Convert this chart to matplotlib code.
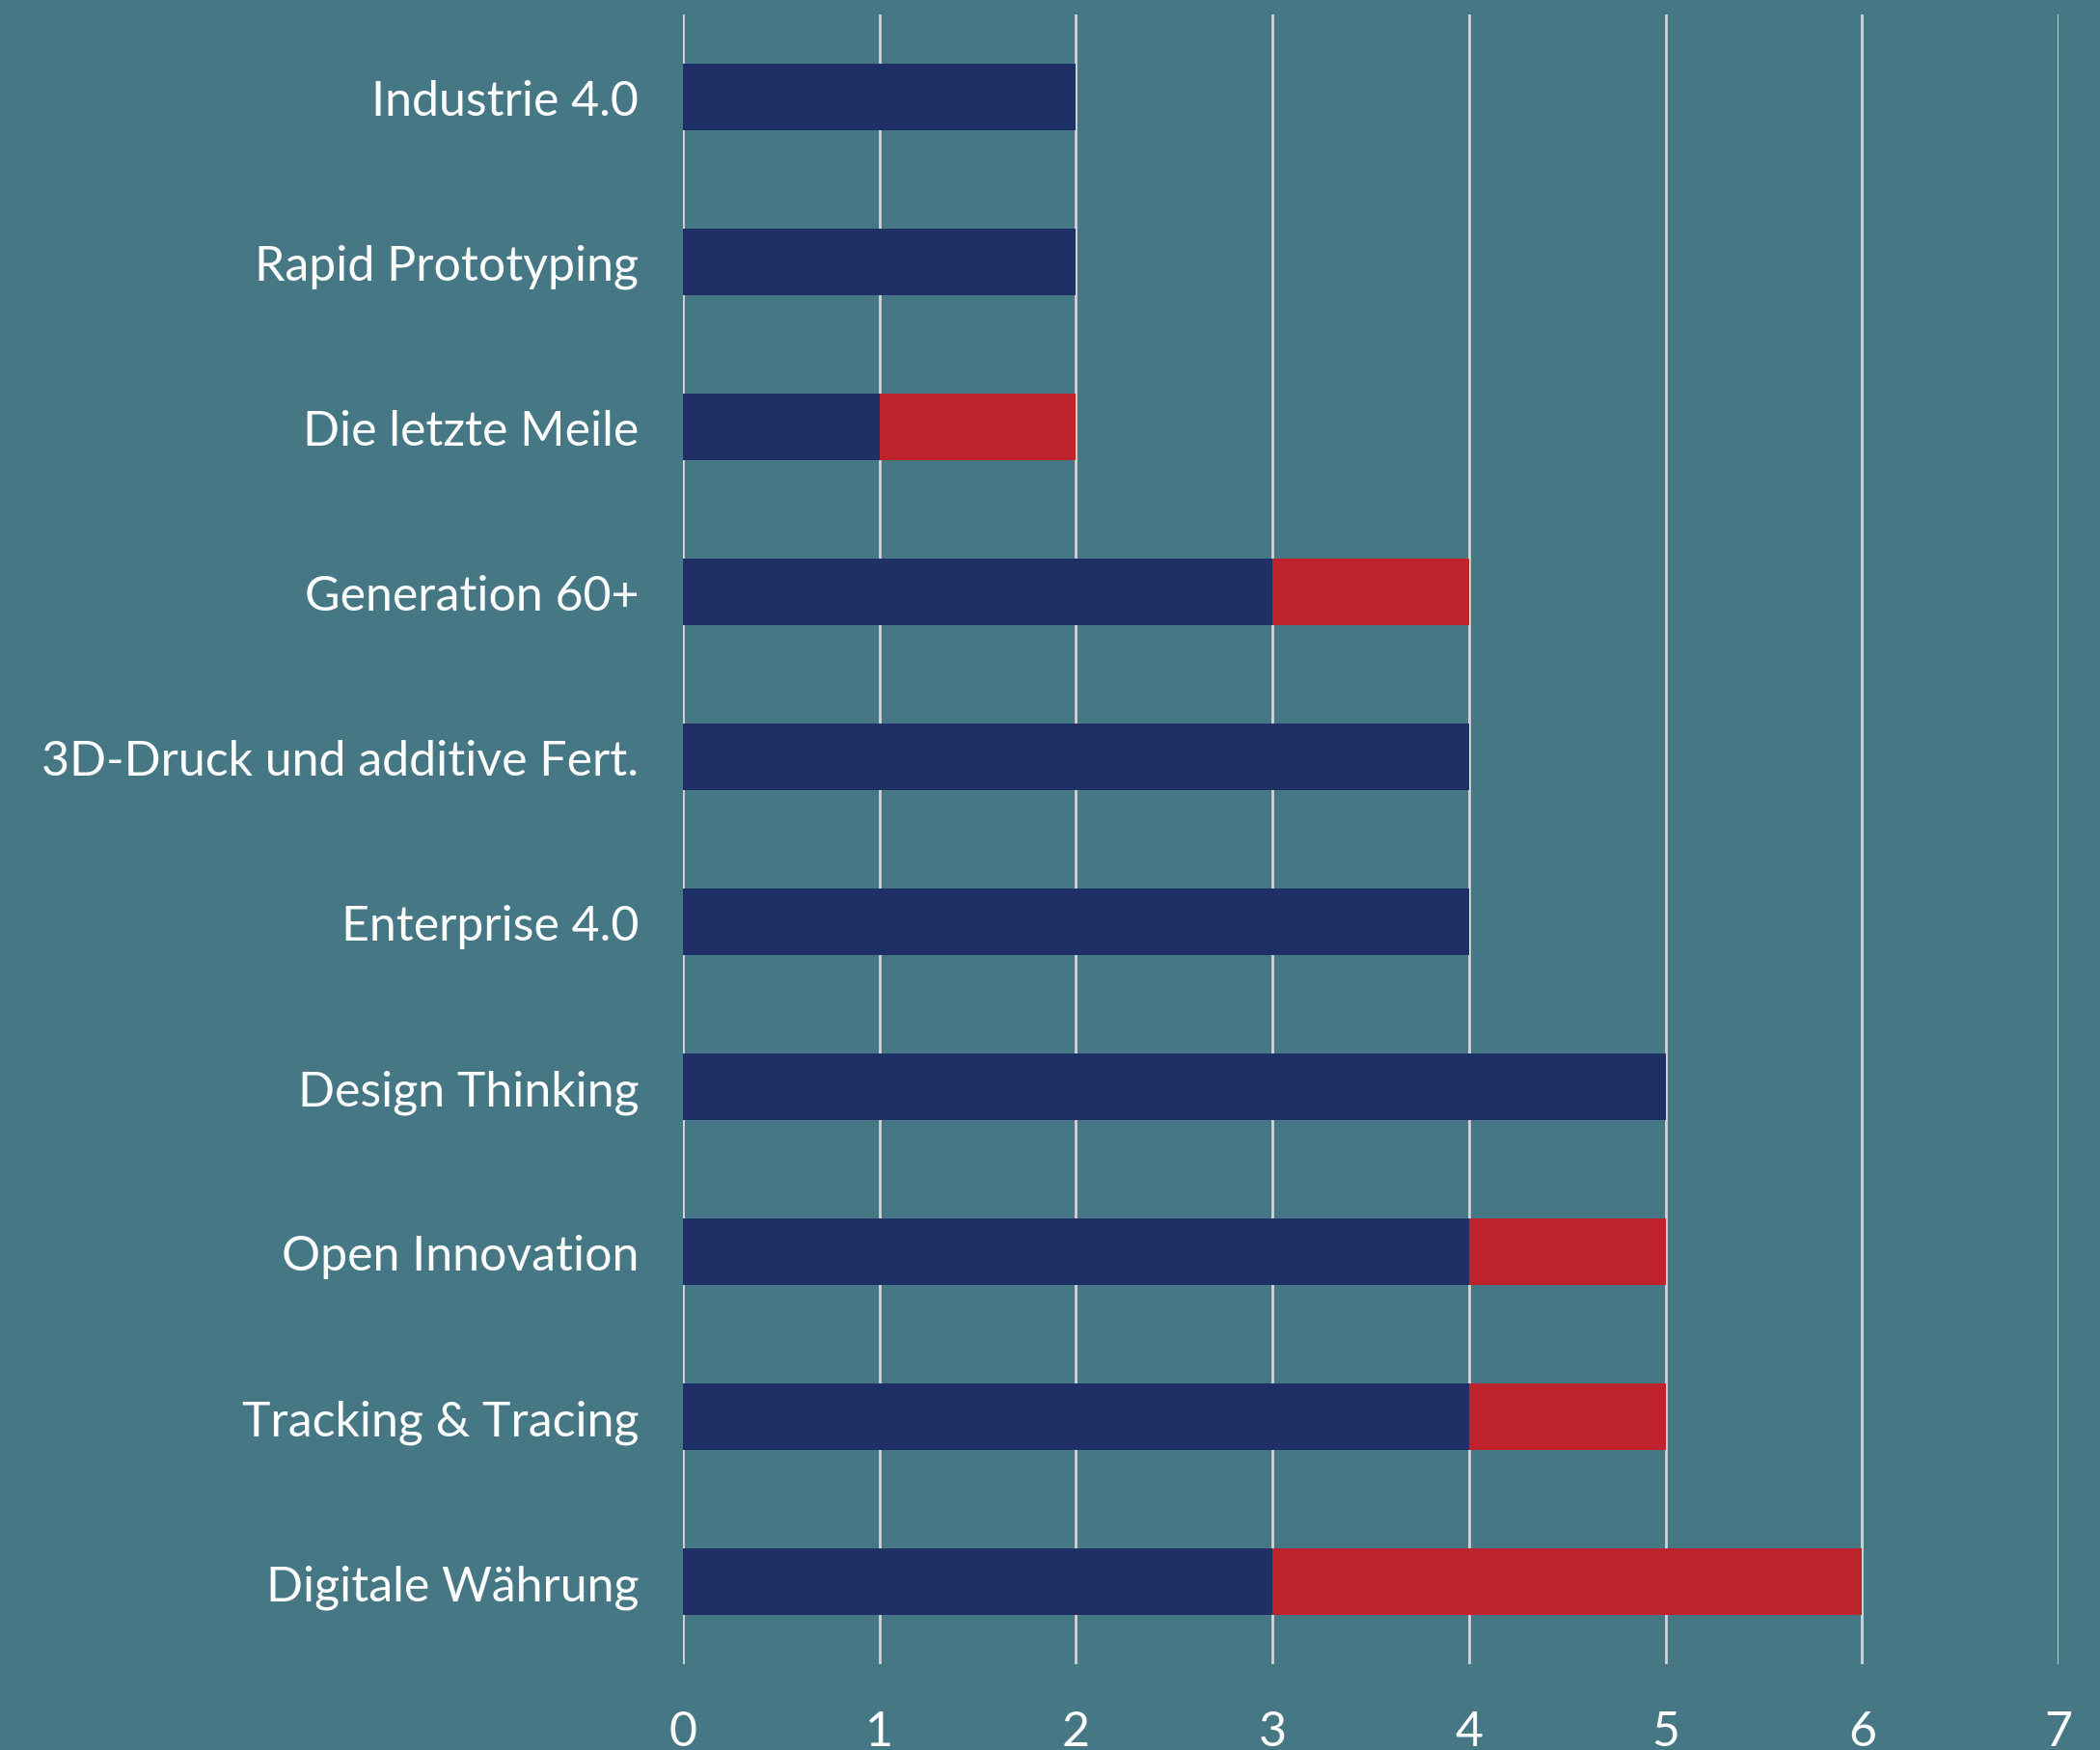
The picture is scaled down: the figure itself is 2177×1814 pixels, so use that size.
import matplotlib
matplotlib.use("Agg")
import matplotlib.pyplot as plt

# topics, top to bottom
topics = ["Industrie 4.0", "Rapid Prototyping", "Die letzte Meile", "Generation 60+",
          "3D-Druck und additive Fert.", "Enterprise 4.0", "Design Thinking",
          "Open Innovation", "Tracking & Tracing", "Digitale Währung"]
navy_vals = [2, 2, 1, 3, 4, 4, 5, 4, 4, 3]
red_vals = [0, 0, 1, 1, 0, 0, 0, 1, 1, 3]
xticks = [0, 1, 2, 3, 4, 5, 6, 7]

bg = "#457884"
navy = "#1f3066"
red = "#be232c"

plt.rcParams['font.family'] = ['Lato', 'DejaVu Sans']

fig = plt.figure(figsize=(21.77, 18.15), dpi=100, facecolor=bg)
ax = fig.add_axes([0.3252, 0.049, 0.6551, 0.9422])
ax.set_facecolor(bg)

ypos = list(range(len(topics)))
ax.barh(ypos, navy_vals, height=0.4, color=navy, zorder=3)
ax.barh(ypos, red_vals, left=navy_vals, height=0.4, color=red, zorder=3)

ax.set_ylim(len(topics) - 0.5, -0.5)
ax.set_xlim(0, 7)
ax.set_xticks(xticks)
ax.set_yticks(ypos)
ax.set_yticklabels(topics)
ax.grid(axis="x", color="#d4d4d4", linewidth=2, zorder=1)
ax.set_axisbelow(True)
for s in ax.spines.values():
    s.set_visible(False)
ax.tick_params(axis="both", length=0, colors="white", labelsize=36)
ax.tick_params(axis="y", pad=33)
ax.tick_params(axis="x", pad=34)

fig.savefig("out.png", dpi=100, facecolor=bg)
